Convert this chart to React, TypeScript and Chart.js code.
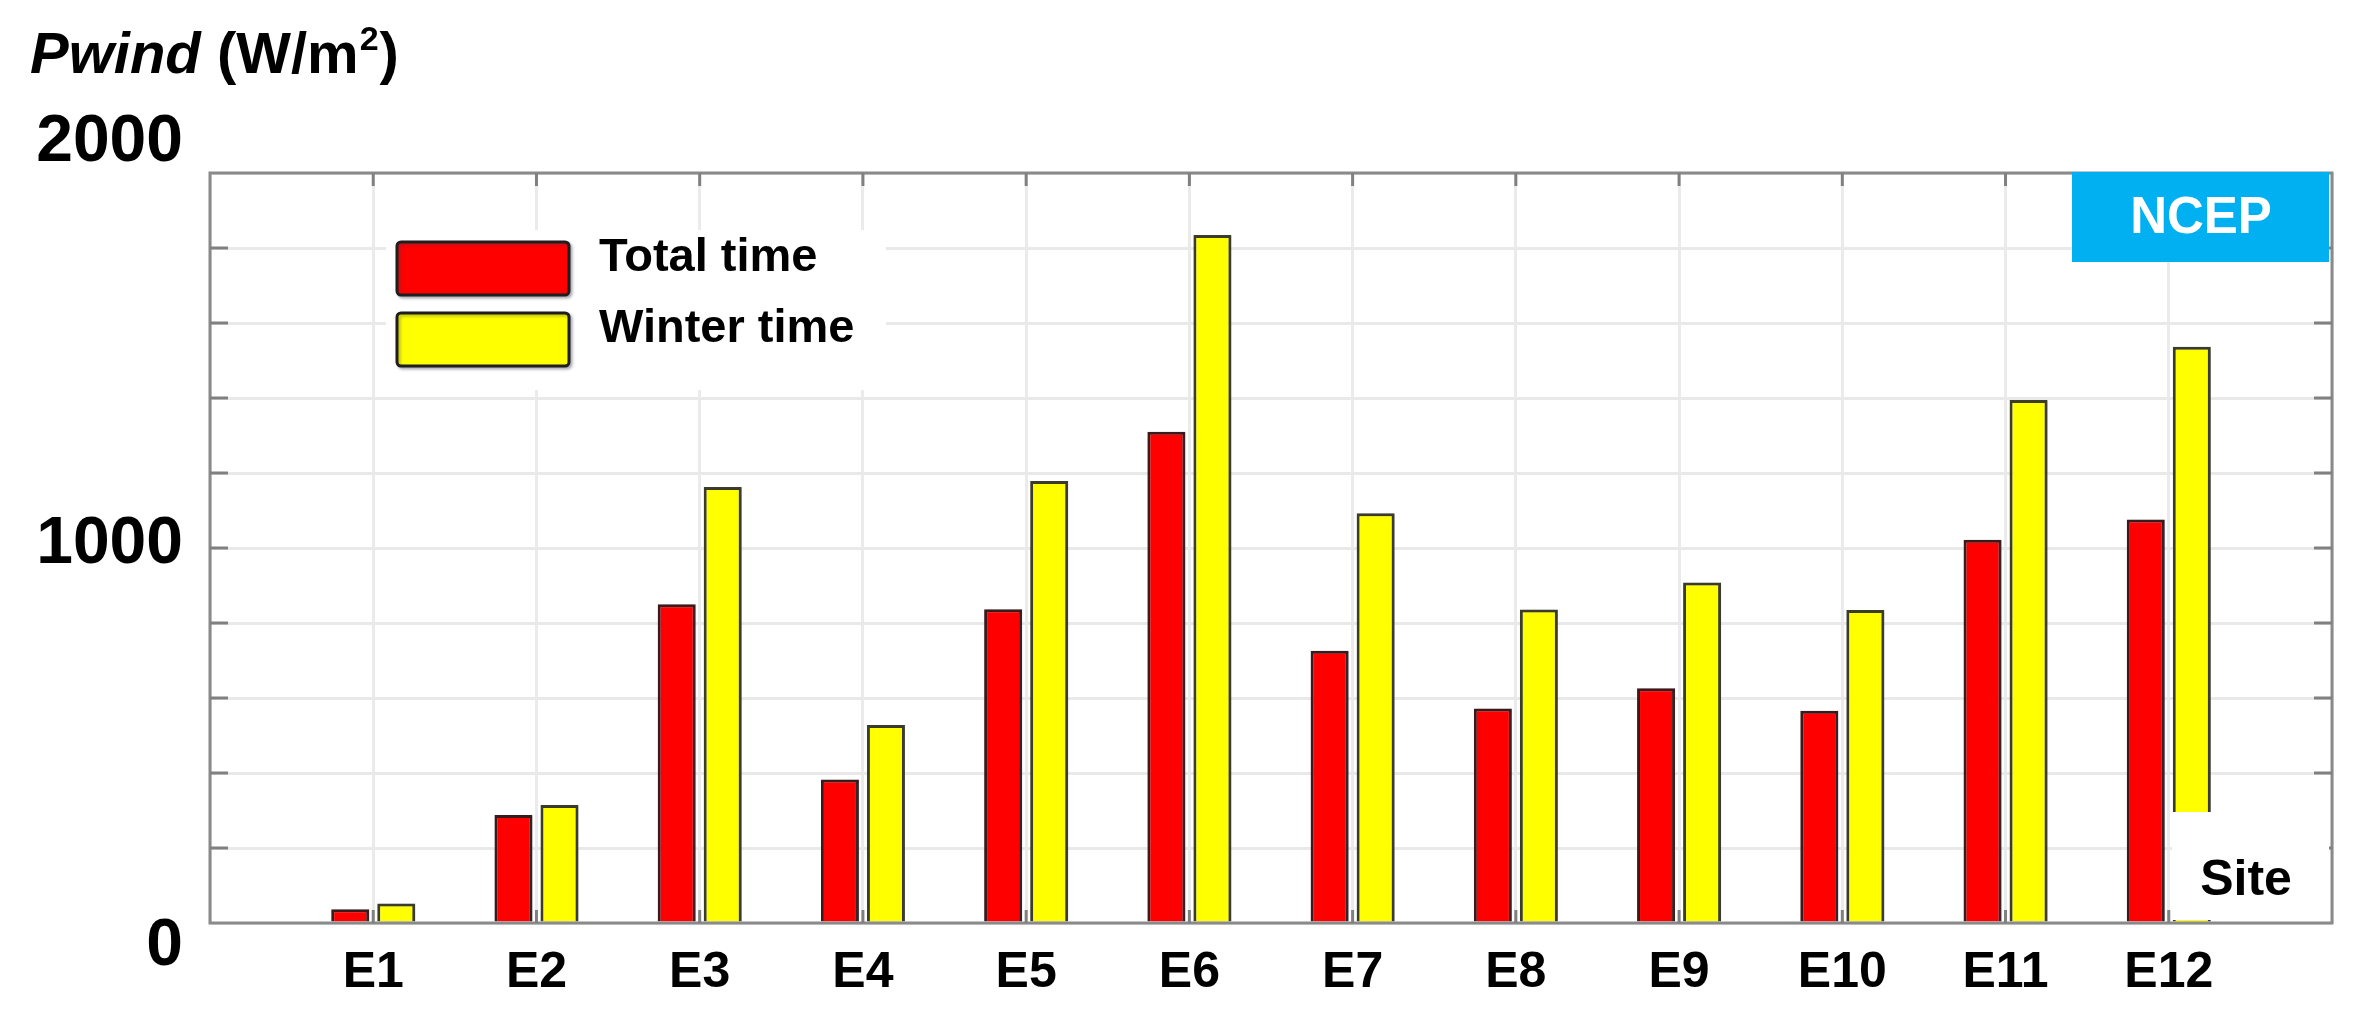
import React, { useEffect, useRef } from 'react';
import { Chart, registerables } from 'chart.js';

Chart.register(...registerables);

const sites = ['E1', 'E2', 'E3', 'E4', 'E5', 'E6', 'E7', 'E8', 'E9', 'E10', 'E11', 'E12'];
const totalTime = [37, 288, 850, 383, 837, 1310, 726, 572, 626, 566, 1022, 1076];
const winterTime = [52, 315, 1163, 528, 1179, 1835, 1093, 836, 908, 835, 1395, 1537];
const seriesNames = ['Total time', 'Winter time'];
const yTickLabels = [0, 1000, 2000];
const yMax = 2000;
const yStep = 200;

const FONT = '"Liberation Sans", Arial, Helvetica, sans-serif';
const W = 2357;
const H = 1031;

const deco = {
  id: 'deco',
  beforeDatasetsDraw(chart: any) {
    const ctx = chart.ctx;
    ctx.save();
    ctx.shadowColor = 'rgba(60,60,80,0.35)';
    ctx.shadowOffsetX = 3;
    ctx.shadowOffsetY = 1;
    ctx.shadowBlur = 3;
  },
  afterDatasetsDraw(chart: any) {
    const ctx = chart.ctx;
    ctx.restore();
    const { left, right, top, bottom } = chart.chartArea;
    const xs = chart.scales.x;
    const ys = chart.scales.y;

    // frame
    ctx.save();
    ctx.strokeStyle = '#8a8a8a';
    ctx.lineWidth = 3;
    ctx.strokeRect(left, top, right - left, bottom - top);

    // inward ticks
    ctx.strokeStyle = '#808080';
    ctx.lineWidth = 3;
    for (let v = yStep; v < yMax; v += yStep) {
      const y = ys.getPixelForValue(v);
      ctx.beginPath();
      ctx.moveTo(left, y);
      ctx.lineTo(left + 18, y);
      ctx.moveTo(right, y);
      ctx.lineTo(right - 18, y);
      ctx.stroke();
    }
    for (let i = 1; i <= sites.length; i++) {
      const x = xs.getPixelForValue(i);
      ctx.beginPath();
      ctx.moveTo(x, top);
      ctx.lineTo(x, top + 13);
      ctx.moveTo(x, bottom);
      ctx.lineTo(x, bottom - 13);
      ctx.stroke();
    }
    ctx.restore();

    // legend
    ctx.save();
    ctx.fillStyle = '#ffffff';
    ctx.fillRect(386, 230, 500, 160);
    const legendColors = ['#ff0000', '#ffff00'];
    const legendY = [242, 313];
    seriesNames.forEach((name, k) => {
      ctx.save();
      ctx.shadowColor = 'rgba(60,60,80,0.35)';
      ctx.shadowOffsetX = 2;
      ctx.shadowOffsetY = 2;
      ctx.shadowBlur = 3;
      ctx.fillStyle = legendColors[k];
      ctx.strokeStyle = '#1e1e1e';
      ctx.lineWidth = 3;
      ctx.beginPath();
      ctx.roundRect(397, legendY[k], 172, 53, 4);
      ctx.fill();
      ctx.stroke();
      ctx.restore();
      ctx.fillStyle = '#000';
      ctx.font = `bold 47px ${FONT}`;
      ctx.textAlign = 'left';
      ctx.textBaseline = 'middle';
      ctx.fillText(name, 599, legendY[k] + 16);
    });
    ctx.restore();

    // NCEP box
    ctx.save();
    ctx.fillStyle = '#00b0f0';
    ctx.fillRect(2072, 172, 257, 90);
    ctx.fillStyle = '#ffffff';
    ctx.font = `bold 51px ${FONT}`;
    ctx.textAlign = 'center';
    ctx.textBaseline = 'middle';
    ctx.fillText('NCEP', 2201, 219);
    ctx.restore();

    // Site box
    ctx.save();
    ctx.fillStyle = '#ffffff';
    ctx.fillRect(2172, 812, 157, 108);
    ctx.fillStyle = '#000';
    ctx.font = `bold 50px ${FONT}`;
    ctx.textAlign = 'center';
    ctx.textBaseline = 'middle';
    ctx.fillText('Site', 2246, 881);
    ctx.restore();

    // x labels
    ctx.save();
    ctx.fillStyle = '#000';
    ctx.font = `bold 50px ${FONT}`;
    ctx.textAlign = 'center';
    ctx.textBaseline = 'middle';
    sites.forEach((s, i) => {
      ctx.fillText(s, xs.getPixelForValue(i + 1), 973);
    });
    ctx.restore();

    // y labels
    ctx.save();
    ctx.fillStyle = '#000';
    ctx.font = `bold 66px ${FONT}`;
    ctx.textAlign = 'right';
    ctx.textBaseline = 'middle';
    yTickLabels.forEach((v) => {
      let y = ys.getPixelForValue(v);
      if (v === yMax) y -= 30;
      else if (v === 0) y += 24;
      else y -= 3;
      ctx.fillText(String(v), 183, y);
    });
    ctx.restore();

    // axis title: Pwind (W/m2)
    ctx.save();
    ctx.fillStyle = '#000';
    ctx.textAlign = 'left';
    ctx.textBaseline = 'alphabetic';
    let x = 30;
    const base = 73;
    ctx.font = `italic bold 58px ${FONT}`;
    ctx.fillText('Pwind', x, base);
    x += ctx.measureText('Pwind').width;
    ctx.font = `bold 58px ${FONT}`;
    ctx.fillText(' (W/m', x, base);
    x += ctx.measureText(' (W/m').width;
    ctx.font = `bold 34px ${FONT}`;
    ctx.fillText('2', x + 1, 50);
    x += ctx.measureText('2').width + 2;
    ctx.font = `bold 58px ${FONT}`;
    ctx.fillText(')', x, base);
    ctx.restore();
  },
};

export default function App() {
  const ref = useRef<HTMLCanvasElement | null>(null);

  useEffect(() => {
    if (!ref.current) return;
    const chart = new Chart(ref.current, {
      type: 'bar',
      data: {
        datasets: [
          {
            label: seriesNames[0],
            data: totalTime.map((v, i) => ({ x: i + 1, y: v })),
            backgroundColor: '#ff0000',
            borderColor: '#3a1a1a',
            borderWidth: 3,
            categoryPercentage: 0.564,
            barPercentage: 0.826,
          },
          {
            label: seriesNames[1],
            data: winterTime.map((v, i) => ({ x: i + 1, y: v })),
            backgroundColor: '#ffff00',
            borderColor: '#3c3c2a',
            borderWidth: 3,
            categoryPercentage: 0.564,
            barPercentage: 0.826,
          },
        ],
      },
      options: {
        responsive: false,
        animation: false,
        devicePixelRatio: 1,
        layout: { padding: { left: 210, right: 25, top: 173, bottom: 108 } },
        plugins: {
          legend: { display: false },
          tooltip: { enabled: false },
          title: { display: false },
        },
        scales: {
          x: {
            type: 'linear',
            min: 0,
            max: sites.length + 1,
            offset: false,
            ticks: { display: false, stepSize: 1 },
            grid: { offset: false, color: '#ebebeb', lineWidth: 3, drawTicks: false },
            border: { display: false },
            afterFit: (s: any) => {
              s.height = 0;
            },
          },
          y: {
            min: 0,
            max: yMax,
            ticks: { display: false, stepSize: yStep },
            grid: { color: '#e9e9e9', lineWidth: 3, drawTicks: false },
            border: { display: false },
            afterFit: (s: any) => {
              s.width = 0;
            },
          },
        },
      },
      plugins: [deco],
    });
    return () => chart.destroy();
  }, []);

  return (
    <div style={{ position: 'fixed', left: 0, top: 0, width: W, height: H, background: '#fff' }}>
      <canvas ref={ref} width={W} height={H} style={{ width: W, height: H, display: 'block' }} />
    </div>
  );
}
